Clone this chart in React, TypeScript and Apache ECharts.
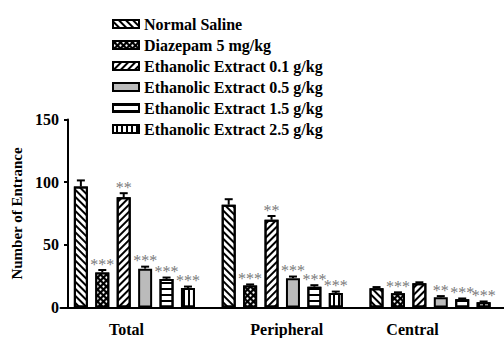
import React, { useEffect, useRef } from "react";
import * as echarts from "echarts";

const categories = ["Total", "Peripheral", "Central"];
const seriesNames = [
  "Normal Saline",
  "Diazepam 5 mg/kg",
  "Ethanolic Extract 0.1 g/kg",
  "Ethanolic Extract 0.5 g/kg",
  "Ethanolic Extract 1.5 g/kg",
  "Ethanolic Extract 2.5 g/kg",
];
const normalSaline = [96.5, 82, 15.3];
const diazepam = [27.9, 17.5, 11.3];
const extract01 = [88, 70, 19.3];
const extract05 = [31, 23.4, 8.1];
const extract15 = [22.8, 16.6, 6.5];
const extract25 = [15.6, 11.6, 4.1];
const errNormalSaline = [4.9, 4.4, 1.0];
const errDiazepam = [2.0, 0.9, 0.8];
const errExtract01 = [3.2, 3.0, 0.8];
const errExtract05 = [1.6, 1.3, 1.0];
const errExtract15 = [1.1, 1.2, 0.7];
const errExtract25 = [1.1, 1.1, 0.7];
const sigNormalSaline = ["", "", ""];
const sigDiazepam = ["***", "***", "***"];
const sigExtract01 = ["**", "**", ""];
const sigExtract05 = ["***", "***", "**"];
const sigExtract15 = ["***", "***", "***"];
const sigExtract25 = ["***", "***", "***"];
const yTicks = [0, 50, 100, 150];

const values = [normalSaline, diazepam, extract01, extract05, extract15, extract25];
const errors = [errNormalSaline, errDiazepam, errExtract01, errExtract05, errExtract15, errExtract25];
const sigs = [sigNormalSaline, sigDiazepam, sigExtract01, sigExtract05, sigExtract15, sigExtract25];

const FONT = "'Liberation Serif', 'Times New Roman', serif";
const SIG_COLOR = "#7a7a7a";
const BAR_W = 14;
const GAP_PCT = 0.53;
const PITCH = BAR_W * (1 + GAP_PCT);

const line = { symbol: "rect", symbolSize: 1, color: "#000", backgroundColor: "#fff", dashArrayX: [1, 0] };
const styles: any[] = [
  { color: "#fff", decal: { ...line, dashArrayY: [1.6, 2.4], rotation: Math.PI / 4 } },
  {
    color: "#000",
    decal: { symbol: "circle", symbolSize: 0.8, color: "#fff", backgroundColor: "#000", dashArrayX: [[3, 3], [0, 3, 3, 0]], dashArrayY: [3, 0] },
  },
  { color: "#fff", decal: { ...line, dashArrayY: [1.6, 2.4], rotation: -Math.PI / 4 } },
  { color: "#bbbbbb" },
  { color: "#fff", decal: { ...line, dashArrayY: [2, 4], rotation: 0 } },
  { color: "#fff", decal: { ...line, dashArrayY: [1.5, 2.5], rotation: Math.PI / 2 } },
];

const labelShift: Record<string, number[]> = {
  Total: [0, 16, 0, 0],
  Peripheral: [0, 0, 0, 9],
  Central: [0, 35, 0, 0],
};

export default function App() {
  const ref = useRef<HTMLDivElement>(null);
  useEffect(() => {
    if (!ref.current) return;
    const chart = echarts.init(ref.current, null, { renderer: "svg" });
    const barSeries = seriesNames.map((name, i) => ({
      name,
      type: "bar",
      data: values[i],
      barWidth: BAR_W,
      barGap: `${GAP_PCT * 100}%`,
      itemStyle: { ...styles[i], borderColor: "#000", borderWidth: 2 },
      z: 2,
    }));
    const errSeries = seriesNames.map((name, i) => ({
      name: name + " err",
      type: "custom",
      z: 5,
      silent: true,
      itemStyle: { color: SIG_COLOR },
      data: categories.map((_, ci) => [ci, values[i][ci], errors[i][ci]]),
      encode: { x: 0, y: 1 },
      renderItem: (params: any, api: any) => {
        const ci = api.value(0);
        const v = api.value(1);
        const e = api.value(2);
        const base = api.coord([ci, v]);
        const top = api.coord([ci, v + e]);
        const x = base[0] + (i - 2.5) * PITCH;
        const children: any[] = [
          { type: "line", shape: { x1: x, y1: base[1], x2: x, y2: top[1] }, style: { stroke: "#000", lineWidth: 2 } },
          { type: "line", shape: { x1: x - 4, y1: top[1], x2: x + 4, y2: top[1] }, style: { stroke: "#000", lineWidth: 2 } },
        ];
        const s = sigs[i][params.dataIndex];
        if (s) {
          children.push({
            type: "text",
            x,
            y: top[1] + 2,
            style: {
              text: s,
              fill: SIG_COLOR,
              stroke: "none",
              lineWidth: 0,
              fontFamily: FONT,
              fontSize: 16,
              align: "center",
              verticalAlign: "bottom",
            },
          });
        }
        return { type: "group", children };
      },
    }));
    chart.setOption({
      animation: false,
      backgroundColor: "#fff",
      legend: {
        data: seriesNames,
        orient: "vertical",
        left: 107,
        top: 11,
        itemGap: 5,
        itemWidth: 26,
        itemHeight: 8,
        icon: "rect",
        textStyle: { fontFamily: FONT, fontWeight: "bold", fontSize: 16, color: "#000" },
      },
      grid: { left: 60.5, right: -6.5, top: 119.5, bottom: 30.5 },
      xAxis: {
        type: "category",
        data: categories,
        axisLine: { lineStyle: { color: "#000", width: 2 } },
        axisTick: { show: false },
        axisLabel: {
          margin: 14,
          fontFamily: FONT,
          fontWeight: "bold",
          fontSize: 16,
          color: "#000",
          formatter: (v: string) => `{c${categories.indexOf(v)}|${v}}`,
          rich: Object.fromEntries(
            categories.map((c, ci) => [
              `c${ci}`,
              { fontFamily: FONT, fontWeight: "bold", fontSize: 16, color: "#000", padding: labelShift[c] },
            ])
          ),
        },
      },
      yAxis: {
        type: "value",
        min: yTicks[0],
        max: yTicks[yTicks.length - 1],
        interval: 50,
        offset: -7.5,
        name: "Number of Entrance",
        nameLocation: "middle",
        nameGap: 42,
        nameTextStyle: { fontFamily: FONT, fontWeight: "bold", fontSize: 15, color: "#000" },
        axisLine: { show: true, lineStyle: { color: "#000", width: 2 } },
        axisTick: { show: true, length: 4, lineStyle: { color: "#000", width: 2 } },
        splitLine: { show: false },
        axisLabel: { margin: 9, fontFamily: FONT, fontWeight: "bold", fontSize: 16, color: "#000" },
      },
      series: [...barSeries, ...errSeries],
    });
    return () => chart.dispose();
  }, []);
  return <div ref={ref} style={{ position: "fixed", left: 0, top: 0, width: 504, height: 338 }} />;
}
